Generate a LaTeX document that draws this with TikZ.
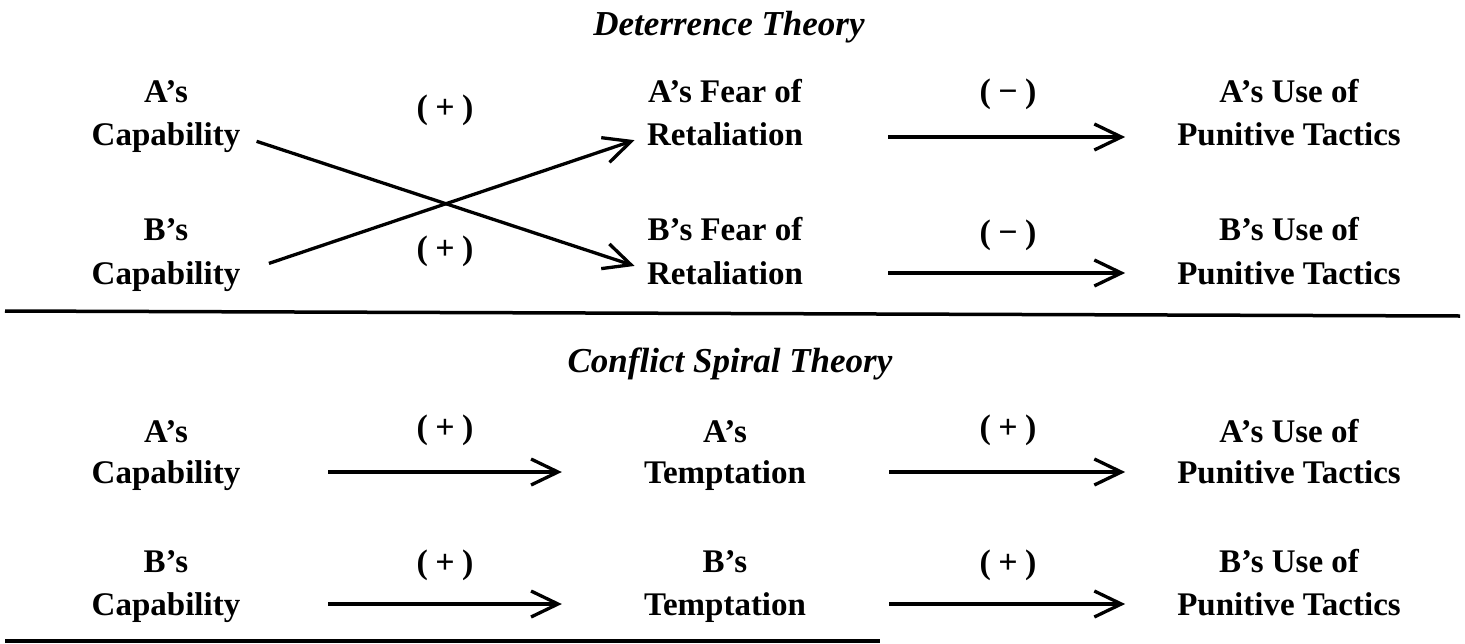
\documentclass[tikz,border=0pt]{standalone}
\usepackage{fontspec}
\setmainfont{Liberation Serif}
\usetikzlibrary{arrows.meta}
\begin{document}
\begin{tikzpicture}[x=1pt,y=-1pt,
  lbl/.style={font=\bfseries\fontsize{33}{40}\selectfont, inner sep=0pt, text height=24pt, text depth=2pt, anchor=base},
  sgn/.style={font=\bfseries\fontsize{34}{40}\selectfont, inner sep=0pt},
  hd/.style={font=\bfseries\itshape\fontsize{35}{42}\selectfont, inner sep=0pt, anchor=base},
  arr/.style={line width=3.3pt, -{Straight Barb[length=27pt,width=26pt]}},
  rule/.style={line width=3.5pt}]
\newcommand{\plusl}{(\hspace{0.22em}+\hspace{0.22em})}
\newcommand{\minusl}{(\hspace{0.22em}−\hspace{0.22em})}
\useasboundingbox (0,0) rectangle (1465,643);
% ---------- Deterrence Theory ----------
\node[hd] (h1) at (729,35) {Deterrence Theory};
\node[lbl] (a1) at (166,102) {A’s};
\node[lbl] (capA) at (166,145) {Capability};
\node[lbl] (b1) at (166,240) {B’s};
\node[lbl] (capB) at (166,284) {Capability};
\node[lbl] (fa) at (725,102) {A’s Fear of};
\node[lbl] (retA) at (725,145) {Retaliation};
\node[lbl] (fb) at (725,240) {B’s Fear of};
\node[lbl] (retB) at (725,284) {Retaliation};
\node[lbl] (ua) at (1289,102) {A’s Use of};
\node[lbl] (punA) at (1289,145) {Punitive Tactics};
\node[lbl] (ub) at (1289,240) {B’s Use of};
\node[lbl] (punB) at (1289,284) {Punitive Tactics};
\node[sgn] (s1) at (445,110) {\plusl};
\node[sgn] (s2) at (445,251) {\plusl};
\node[sgn] (s3) at (1008,94) {\minusl};
\node[sgn] (s4) at (1008,235) {\minusl};
\draw[arr, shorten <=17pt, shorten >=13pt] ([yshift=-2pt]capA.east) -- ([yshift=3pt]retB.west);
\draw[arr, shorten <=30pt, shorten >=13pt] (capB.east) -- ([yshift=-2pt]retA.west);
\draw[arr, shorten <=85pt, shorten >=52pt] ([yshift=-3pt]retA.east) -- ([yshift=-3pt]punA.west);
\draw[arr, shorten <=85pt, shorten >=52pt] (retB.east) -- (punB.west);
\draw[rule] (5,311) -- (1460,316);
% ---------- Conflict Spiral Theory ----------
\node[hd] (h2) at (730,372) {Conflict Spiral Theory};
\node[lbl] (a2) at (166,442) {A’s};
\node[lbl] (capA2) at (166,483) {Capability};
\node[lbl] (b2) at (166,572) {B’s};
\node[lbl] (capB2) at (166,615) {Capability};
\node[lbl] (ta) at (725,442) {A’s};
\node[lbl] (temA) at (725,483) {Temptation};
\node[lbl] (tb) at (725,572) {B’s};
\node[lbl] (temB) at (725,615) {Temptation};
\node[lbl] (ua2) at (1289,442) {A’s Use of};
\node[lbl] (punA2) at (1289,483) {Punitive Tactics};
\node[lbl] (ub2) at (1289,572) {B’s Use of};
\node[lbl] (punB2) at (1289,615) {Punitive Tactics};
\node[sgn] (s5) at (445,430) {\plusl};
\node[sgn] (s6) at (1008,430) {\plusl};
\node[sgn] (s7) at (445,565) {\plusl};
\node[sgn] (s8) at (1008,565) {\plusl};
\draw[arr, shorten <=88pt, shorten >=82pt] (capA2.east) -- (temA.west);
\draw[arr, shorten <=88pt, shorten >=82pt] (capB2.east) -- (temB.west);
\draw[arr, shorten <=83pt, shorten >=52pt] (temA.east) -- (punA2.west);
\draw[arr, shorten <=83pt, shorten >=52pt] (temB.east) -- (punB2.west);
\draw[rule] (5,641) -- (880,641);
\end{tikzpicture}
\end{document}
